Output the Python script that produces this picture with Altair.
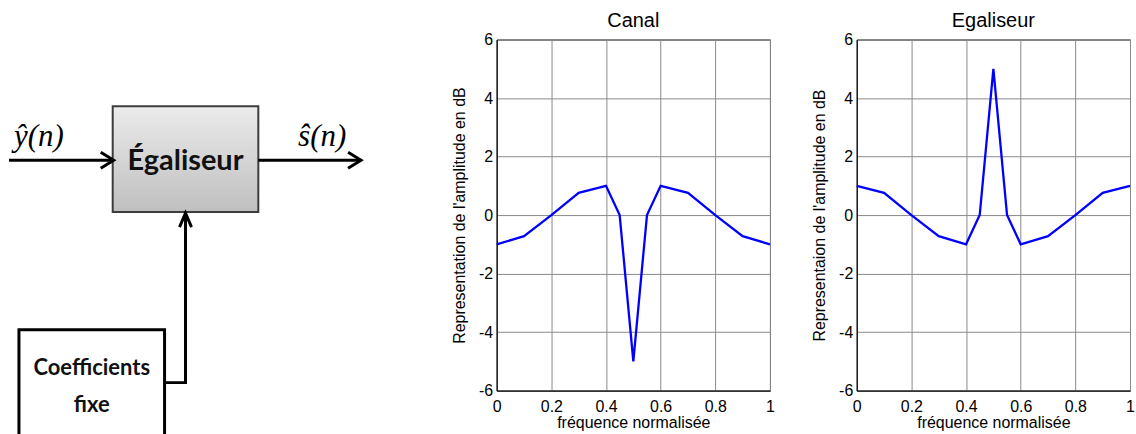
import altair as alt
import pandas as pd

# ---- frequency responses (normalised frequency, amplitude in dB) ----
freq = [0.0, 0.1, 0.2, 0.3, 0.4, 0.45, 0.5, 0.55, 0.6, 0.7, 0.8, 0.9, 1.0]
canal_db = [-1.0, -0.72, 0.0, 0.76, 1.0, 0.0, -5.0, 0.0, 1.0, 0.76, 0.0, -0.72, -1.0]
egaliseur_db = [1.0, 0.76, 0.0, -0.72, -1.0, 0.0, 5.0, 0.0, -1.0, -0.72, 0.0, 0.76, 1.0]

x_ticks = [0, 0.2, 0.4, 0.6, 0.8, 1]
y_ticks = [-6, -4, -2, 0, 2, 4, 6]

# ---- block diagram: wires and arrowheads as polylines (diagram units) ----
wire_names = ["in", "in_head", "out", "out_head", "coef", "coef_head"]
wire_x = [[8, 111], [100, 113, 100], [258, 359], [348, 361, 348],
          [164, 185, 185], [179, 185, 191]]
wire_y = [[160, 160], [152, 160, 168], [160, 160], [152, 160, 168],
          [383, 383, 215], [227, 213, 227]]

# boxes: equaliser block and fixed-coefficient block
box_names = ["egaliseur", "coefficients"]
box_x1 = [112, 18]
box_x2 = [258, 164]
box_y1 = [106, 330]
box_y2 = [212, 480]

# block labels and signal names
block_text = ["Égaliseur", "Coefficients", "fixe"]
block_text_x = [185, 91, 91]
block_text_y = [170, 375, 412]
signal_text = ["ŷ(n)", "ŝ(n)"]
signal_text_x = [38, 322]
signal_text_y = [146, 146]

DIAG_W = 410
DIAG_TOP, DIAG_BOTTOM = 39, 434

wires = pd.DataFrame(
    [
        {"wire": name, "k": k, "x": x, "y": y}
        for name, xs, ys in zip(wire_names, wire_x, wire_y)
        for k, (x, y) in enumerate(zip(xs, ys))
    ]
)
boxes = pd.DataFrame(
    {"box": box_names, "x1": box_x1, "x2": box_x2, "y1": box_y1, "y2": box_y2}
)
labels = pd.DataFrame({"t": block_text, "x": block_text_x, "y": block_text_y})
signals = pd.DataFrame({"t": signal_text, "x": signal_text_x, "y": signal_text_y})

sx = alt.Scale(domain=[0, DIAG_W], nice=False, zero=False)
sy = alt.Scale(domain=[DIAG_TOP, DIAG_BOTTOM], nice=False, zero=False, reverse=True)

box_fill = alt.Gradient(
    gradient="linear",
    stops=[
        alt.GradientStop(offset=0, color="#ebebeb"),
        alt.GradientStop(offset=1, color="#bfbfbf"),
    ],
    x1=0, x2=0, y1=0, y2=1,
)

eq_box = (
    alt.Chart(boxes)
    .transform_filter(alt.datum.box == "egaliseur")
    .mark_rect(fill=box_fill, stroke="#3c3c3c", strokeWidth=2)
    .encode(
        x=alt.X("x1:Q", scale=sx, axis=None),
        x2="x2:Q",
        y=alt.Y("y1:Q", scale=sy, axis=None),
        y2="y2:Q",
    )
)
coef_box = (
    alt.Chart(boxes)
    .transform_filter(alt.datum.box == "coefficients")
    .mark_rect(fill="white", stroke="black", strokeWidth=3)
    .encode(
        x=alt.X("x1:Q", scale=sx, axis=None),
        x2="x2:Q",
        y=alt.Y("y1:Q", scale=sy, axis=None),
        y2="y2:Q",
    )
)
wire_layer = (
    alt.Chart(wires)
    .mark_line(color="black", strokeWidth=3, strokeJoin="miter", strokeCap="butt")
    .encode(
        x=alt.X("x:Q", scale=sx, axis=None),
        y=alt.Y("y:Q", scale=sy, axis=None),
        detail="wire:N",
        order="k:Q",
    )
)
eq_label = (
    alt.Chart(labels)
    .transform_filter(alt.datum.t == "Égaliseur")
    .mark_text(
        font="Lato", fontWeight="bold", fontSize=29, color="#111111",
        align="center", baseline="alphabetic",
    )
    .encode(x=alt.X("x:Q", scale=sx, axis=None),
            y=alt.Y("y:Q", scale=sy, axis=None), text="t:N")
)
coef_label = (
    alt.Chart(labels)
    .transform_filter(alt.datum.t != "Égaliseur")
    .mark_text(
        font="Lato", fontWeight="bold", fontSize=22, color="#111111",
        align="center", baseline="alphabetic",
    )
    .encode(x=alt.X("x:Q", scale=sx, axis=None),
            y=alt.Y("y:Q", scale=sy, axis=None), text="t:N")
)
signal_label = (
    alt.Chart(signals)
    .mark_text(
        font="Liberation Serif", fontStyle="italic", fontSize=31,
        color="black", align="center", baseline="alphabetic",
    )
    .encode(x=alt.X("x:Q", scale=sx, axis=None),
            y=alt.Y("y:Q", scale=sy, axis=None), text="t:N")
)

diagram = alt.layer(
    coef_box, eq_box, wire_layer, eq_label, coef_label, signal_label
).properties(
    width=DIAG_W,
    height=DIAG_BOTTOM - DIAG_TOP,
    view=alt.ViewBackground(stroke="transparent", fill="white"),
)

AXIS_FONT = "Liberation Sans"


def response_panel(values, title, y_title):
    df = pd.DataFrame({"f": freq, "db": values})
    return (
        alt.Chart(
            df,
            title=alt.TitleParams(
                title, font=AXIS_FONT, fontSize=20, fontWeight="normal",
                color="black", anchor="middle", baseline="alphabetic", offset=-15,
            ),
        )
        .mark_line(color="#0000ff", strokeWidth=2.3)
        .encode(
            x=alt.X(
                "f:Q",
                scale=alt.Scale(domain=[0, 1], nice=False, zero=False),
                axis=alt.Axis(
                    values=x_ticks, labelExpr="'' + datum.value",
                    title="fréquence normalisée",
                    ticks=False, labelPadding=8, titlePadding=0,
                ),
            ),
            y=alt.Y(
                "db:Q",
                scale=alt.Scale(domain=[-6, 6], nice=False, zero=False),
                axis=alt.Axis(
                    values=y_ticks, labelExpr="'' + datum.value",
                    title=y_title,
                    ticks=False, labelPadding=4, titlePadding=11,
                ),
            ),
        )
        .properties(
            width=274,
            height=352,
            view=alt.ViewBackground(stroke="black", strokeWidth=1),
        )
    )


canal = response_panel(canal_db, "Canal", "Representation de l'amplitude en dB")
egaliseur = response_panel(egaliseur_db, "Egaliseur", "Representaion de l'amplitude en dB")

chart = (
    alt.hconcat(diagram, canal, egaliseur, spacing=87, bounds="flush")
    .properties(
        padding={"left": 0, "top": 9, "right": 0, "bottom": 0},
        background="white",
    )
    .configure_axis(
        labelFont=AXIS_FONT, labelFontSize=16, labelColor="black",
        titleFont=AXIS_FONT, titleFontSize=16, titleColor="black",
        titleFontWeight="normal",
        domainColor="black", domainWidth=1,
        grid=True, gridColor="#8a8a8a", gridWidth=1,
        labelFlush=False,
    )
)

chart.save("out.html", embed_options={"renderer": "svg", "actions": False})
